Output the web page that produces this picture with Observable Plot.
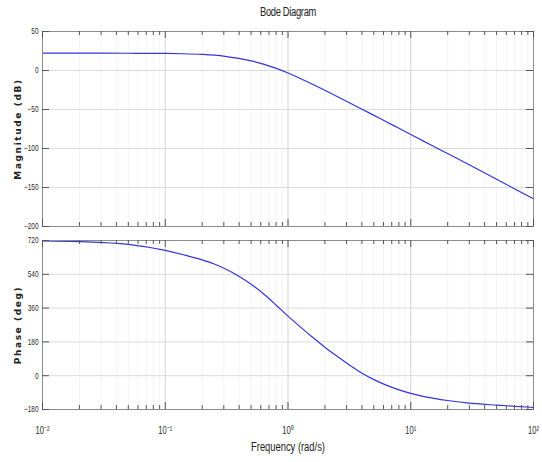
<!DOCTYPE html>
<html>
<head>
<meta charset="utf-8">
<script src="https://cdn.jsdelivr.net/npm/d3@7"></script>
<script src="https://cdn.jsdelivr.net/npm/@observablehq/plot@0.6"></script>
<style>
  html, body { margin: 0; padding: 0; background: #fff; }
  #chart { position: relative; width: 542px; height: 462px; overflow: hidden;
    font-family: "Liberation Sans", Arial, sans-serif; color: #222; }
  .abs { position: absolute; white-space: nowrap; }
  .title { left: 288px; top: 12px; transform: translate(-50%, -50%) scaleX(0.78); font-size: 12px; letter-spacing: -0.4px; }
  .xlabel { left: 288px; top: 447px; transform: translate(-50%, -50%) scaleX(0.78); font-size: 12px; }
  .ylabel { font-family: "DejaVu Sans", sans-serif; font-weight: bold; font-size: 9px; letter-spacing: 1.6px; color: #222; transform: translate(-50%, -50%) rotate(-90deg); }
  svg { position: absolute; left: 0; }
</style>
</head>
<body>
<div id="chart"></div>
<script>
// ---- data ----
const title = "Bode Diagram";
const xLabel = "Frequency (rad/s)";
const magLabel = "Magnitude (dB)";
const phaseLabel = "Phase (deg)";

const freq  = [0.01, 0.02, 0.05, 0.1, 0.141, 0.2, 0.251, 0.316, 0.398, 0.501, 0.631, 0.794, 1, 1.259, 1.585, 1.995, 2.512, 3.162, 3.981, 5.012, 6.31, 7.943, 10, 12.59, 15.85, 19.95, 28.84, 50.12, 100];
const mag   = [22.2, 22.2, 22.1, 21.9, 21.5, 20.6, 19.6, 17.9, 15.6, 12.4, 8.2, 3.0, -3.2, -10.2, -17.7, -25.4, -33.3, -41.3, -49.4, -57.5, -65.6, -73.8, -82, -90.2, -98.3, -106.5, -119.5, -139.5, -164.5];
const phase = [718, 714, 699, 667, 644, 617, 595, 566, 530, 487, 436, 378, 317, 260, 205, 152, 103, 57, 14, -21, -50, -74, -94, -110, -122, -132, -145, -157, -169];

const xMajor = [0.01, 0.1, 1, 10, 100];
const xMajorLabels = ["10\u207B\u00B2", "10\u207B\u00B9", "10\u2070", "10\u00B9", "10\u00B2"];
const xMinor = [0.02,0.03,0.04,0.05,0.06,0.07,0.08,0.09, 0.2,0.3,0.4,0.5,0.6,0.7,0.8,0.9, 2,3,4,5,6,7,8,9, 20,30,40,50,60,70,80,90];
const magTicks = [50, 0, -50, -100, -150, -200];
const phaseTicks = [720, 540, 360, 180, 0, -180];

const rows = freq.map((f, i) => ({f, mag: mag[i], phase: phase[i]}));

const W = 542, mL = 42, mR = 9;
const frameW = W - mL - mR;
const lineColor = "#3535dc";
const tickFont = "'Liberation Sans', Arial, sans-serif";

function panel({key, domain, yTicks, height, mT, mB, showX}) {
  const frameH = height - mT - mB;
  const majLen = 7, minLen = 4;
  const marks = [
    Plot.gridX(xMinor, {stroke: "#f4f4f4", strokeOpacity: 1}),
    Plot.gridX(xMajor, {stroke: "#d4d4d4", strokeOpacity: 1}),
    Plot.gridY(yTicks, {stroke: "#dcdcdc", strokeOpacity: 1}),
    Plot.line(rows, {x: "f", y: key, stroke: lineColor, strokeWidth: 1.2, curve: "monotone-x"}),
    Plot.frame({stroke: "#8c8c8c"}),
    // inward ticks, top & bottom
    Plot.tickX(xMajor, {x: d => d, insetBottom: frameH - majLen, stroke: "#555"}),
    Plot.tickX(xMajor, {x: d => d, insetTop: frameH - majLen, stroke: "#555"}),
    Plot.tickX(xMinor, {x: d => d, insetBottom: frameH - minLen, stroke: "#555"}),
    Plot.tickX(xMinor, {x: d => d, insetTop: frameH - minLen, stroke: "#555"}),
    // inward ticks, left & right
    Plot.tickY(yTicks, {y: d => d, insetRight: frameW - majLen, stroke: "#555"}),
    Plot.tickY(yTicks, {y: d => d, insetLeft: frameW - majLen, stroke: "#555"}),
    Plot.axisY(yTicks, {tickSize: 0, tickPadding: 4, fontSize: 9, fill: "#2a2a2a", label: null, fontFamily: tickFont})
  ];
  if (showX) {
    marks.push(Plot.axisX(xMajor, {anchor: "bottom", tickSize: 0, tickPadding: 17, fontSize: 10.5, fill: "#2a2a2a", label: null, fontFamily: tickFont,
      tickFormat: d => xMajorLabels[xMajor.indexOf(d)]}));
  } else {
    marks.push(Plot.axisX({ticks: [], label: null}));
  }
  return Plot.plot({
    width: W, height,
    marginLeft: mL, marginRight: mR, marginTop: mT, marginBottom: mB,
    style: {background: "transparent", overflow: "visible"},
    x: {type: "log", domain: [0.01, 100]},
    y: {domain},
    marks
  });
}

const chart = document.getElementById("chart");
const top1 = panel({key: "mag", domain: [-200, 50], yTicks: magTicks, height: 212, mT: 11, mB: 6, showX: false});
top1.style.top = "20px";
const bot = panel({key: "phase", domain: [-180, 720], yTicks: phaseTicks, height: 230, mT: 8, mB: 53, showX: true});
bot.style.top = "232px";
chart.appendChild(top1);
chart.appendChild(bot);

// condense tick label glyphs (narrow font look of the reference)
for (const svg of [top1, bot]) {
  svg.querySelectorAll("text").forEach(t => {
    const len = t.getComputedTextLength();
    if (len > 0) {
      t.setAttribute("textLength", (len * 0.72).toFixed(2));
      t.setAttribute("lengthAdjust", "spacingAndGlyphs");
    }
  });
}

function addText(cls, text, style) {
  const d = document.createElement("div");
  d.className = "abs " + cls;
  d.textContent = text;
  Object.assign(d.style, style || {});
  chart.appendChild(d);
}
addText("title", title);
addText("xlabel", xLabel);
addText("ylabel", magLabel, {left: "18px", top: "129px"});
addText("ylabel", phaseLabel, {left: "18px", top: "325px"});
</script>
</body>
</html>
